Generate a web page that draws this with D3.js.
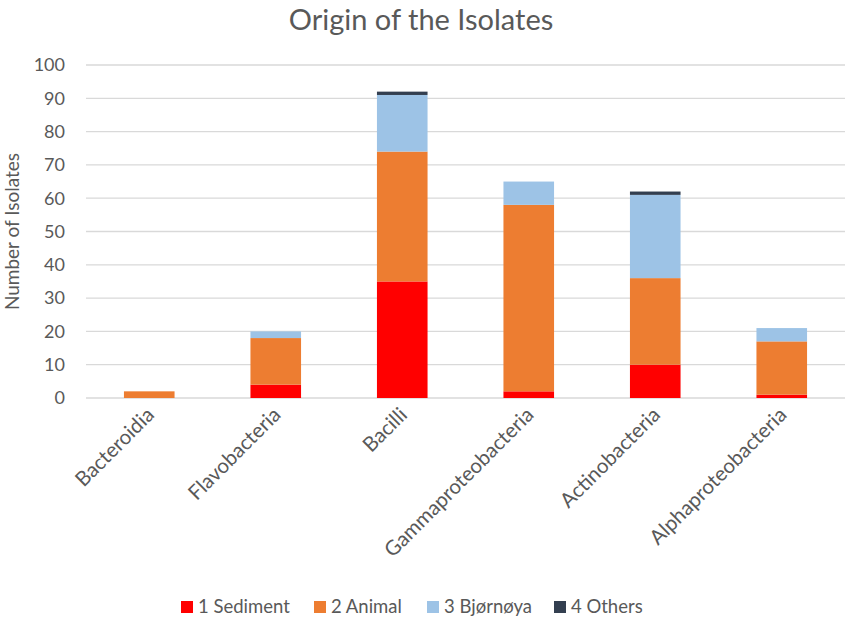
<!DOCTYPE html>
<html>
<head>
<meta charset="utf-8">
<script src="https://cdn.jsdelivr.net/npm/d3@7"></script>
<style>
  body { margin: 0; background: #fff; }
  text { font-family: Lato, "Open Sans", sans-serif; fill: #595959; }
</style>
</head>
<body>
<div id="chart"></div>
<script>
// categories and values
let categories = ["Bacteroidia", "Flavobacteria", "Bacilli", "Gammaproteobacteria", "Actinobacteria", "Alphaproteobacteria"];
let sediment  = [0, 4, 35, 2, 10, 1];
let animal    = [2, 14, 39, 56, 26, 16];
let bjornoya  = [0, 2, 17, 7, 25, 4];
let others    = [0, 0, 1, 0, 1, 0];
let seriesNames = ["1 Sediment", "2 Animal", "3 Bjørnøya", "4 Others"];
let seriesColors = ["#FF0000", "#ED7D31", "#9DC3E6", "#333F50"];
let yTicks = [0, 10, 20, 30, 40, 50, 60, 70, 80, 90, 100];

let width = 851;
let height = 620;
let margin = ({top: 65, right: 6, bottom: 222, left: 86});

let svg = d3.select("#chart")
    .append("svg")
    .attr("width", width)
    .attr("height", height);

// build rows for the stack
let keys = ["s", "a", "b", "o"];
let rows = categories.map(function(c, i) {
    return {cat: c, s: sediment[i], a: animal[i], b: bjornoya[i], o: others[i]};
});
let stacked = d3.stack().keys(keys)(rows);

let x = d3.scaleBand()
    .domain(categories)
    .range([margin.left, width - margin.right])
    .paddingInner(0.6)
    .paddingOuter(0.3);

let y = d3.scaleLinear()
    .domain([0, 100])
    .range([height - margin.bottom, margin.top]);

// gridlines
svg.append("g")
    .selectAll("line")
    .data(yTicks)
    .enter()
    .append("line")
    .attr("x1", margin.left)
    .attr("x2", width - margin.right)
    .attr("y1", function(d) { return y(d); })
    .attr("y2", function(d) { return y(d); })
    .attr("stroke", "#D9D9D9")
    .attr("stroke-width", 1.3);

// y tick labels
svg.append("g")
    .selectAll("text")
    .data(yTicks)
    .enter()
    .append("text")
    .attr("x", margin.left - 21)
    .attr("y", function(d) { return y(d); })
    .attr("dy", "0.35em")
    .attr("text-anchor", "end")
    .style("font-size", "18px")
    .text(function(d) { return d; });

// bars
svg.append("g")
    .selectAll("g")
    .data(stacked)
    .enter()
    .append("g")
    .attr("fill", function(d, i) { return seriesColors[i]; })
    .selectAll("rect")
    .data(function(d) { return d; })
    .enter()
    .append("rect")
    .attr("x", function(d) { return x(d.data.cat); })
    .attr("width", x.bandwidth())
    .attr("y", function(d) { return y(d[1]); })
    .attr("height", function(d) { return y(d[0]) - y(d[1]); });

// x labels, rotated
svg.append("g")
    .selectAll("text")
    .data(categories)
    .enter()
    .append("text")
    .attr("transform", function(d) {
        return "translate(" + (x(d) + x.bandwidth() / 2 - 4) + "," + (y(0) + 8) + ") rotate(-45)";
    })
    .attr("text-anchor", "end")
    .attr("dy", "0.7em")
    .style("font-size", "20.5px")
    .text(function(d) { return d; });

// y axis title
svg.append("text")
    .attr("transform", "translate(12," + ((y(0) + y(100)) / 2) + ") rotate(-90)")
    .attr("text-anchor", "middle")
    .attr("dy", "0.35em")
    .style("font-size", "19px")
    .text("Number of Isolates");

// title
svg.append("text")
    .attr("x", 421)
    .attr("y", 30)
    .attr("text-anchor", "middle")
    .style("font-size", "29px")
    .text("Origin of the Isolates");

// legend
let legendX = [181, 314, 427, 554];
let legend = svg.append("g");
legend.selectAll("rect")
    .data(seriesNames)
    .enter()
    .append("rect")
    .attr("x", function(d, i) { return legendX[i]; })
    .attr("y", 601)
    .attr("width", 12)
    .attr("height", 12)
    .attr("fill", function(d, i) { return seriesColors[i]; });
legend.selectAll("text")
    .data(seriesNames)
    .enter()
    .append("text")
    .attr("x", function(d, i) { return legendX[i] + 17; })
    .attr("y", 607)
    .attr("dy", "0.35em")
    .style("font-size", "18.5px")
    .text(function(d) { return d; });
</script>
</body>
</html>
